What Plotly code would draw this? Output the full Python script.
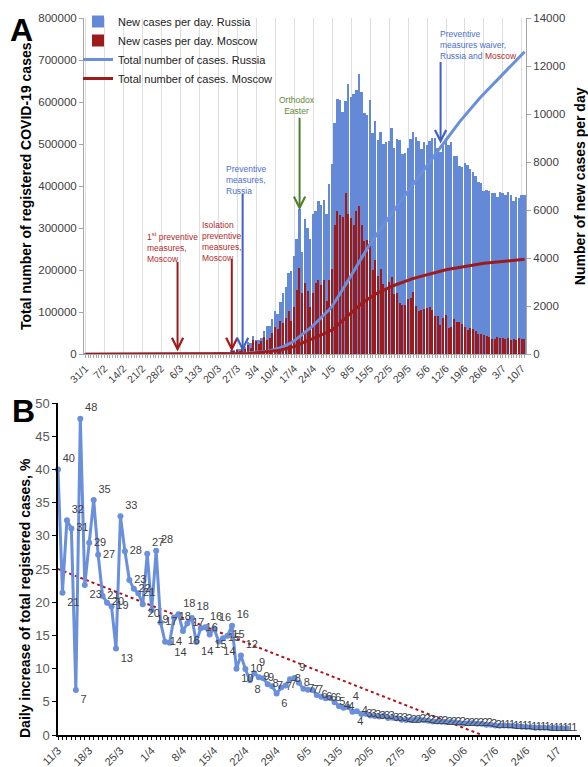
import numpy as np
import pandas as pd
import plotly.graph_objects as go

# ---------------- DATA ----------------
# New cases per day, Russia, 31 Jan 2020 - 11 Jul 2020
russia_jan = [2]
russia_feb = [0, 0, 0, 0, 0, 0, 0, 0, 0, 0, 0, 0, 0, 0, 0, 0, 0, 0, 0, 0, 0, 0, 0, 0, 0, 0, 0, 0, 0]
russia_mar = [0, 1, 0, 0, 1, 6, 4, 3, 0, 3, 8, 6, 11, 14, 4, 30, 21, 33, 52, 54, 53, 61, 71, 57,
              163, 182, 196, 228, 270, 302, 501]
russia_apr = [440, 771, 601, 582, 658, 954, 1154, 1175, 1459, 1786, 1667, 2186, 2558, 2774, 3388,
              3448, 4070, 4785, 6060, 4268, 5642, 5236, 4774, 5849, 5966, 6361, 6198, 6411, 5841, 7099]
russia_may = [7933, 9623, 10633, 10581, 10102, 10559, 11231, 10699, 10817, 11012, 11656, 10899,
              10028, 9974, 10598, 9200, 9709, 8926, 9263, 8764, 8849, 8894, 9434, 8599, 8946, 8915,
              8338, 8371, 8572, 8952, 9268]
russia_jun = [9035, 8863, 8536, 8831, 8726, 8855, 8984, 8985, 8595, 8404, 8779, 8987, 8706, 8835,
              8246, 8248, 7843, 7790, 7972, 7889, 7728, 7600, 7425, 7176, 7113, 6800, 6852, 6791,
              6719, 6693]
russia_jul = [6556, 6760, 6718, 6632, 6736, 6611, 6368, 6562, 6509, 6635, 6611]

# New cases per day, Moscow
moscow_jan = [0]
moscow_feb = [0, 0, 0, 0, 0, 0, 0, 0, 0, 0, 0, 0, 0, 0, 0, 0, 0, 0, 0, 0, 0, 0, 0, 0, 0, 0, 0, 0, 0]
moscow_mar = [0, 1, 0, 0, 1, 4, 0, 1, 0, 1, 4, 5, 9, 10, 0, 20, 10, 17, 33, 39, 45, 54, 71, 28,
              120, 136, 157, 114, 197, 212, 387]
moscow_apr = [267, 595, 536, 434, 536, 697, 591, 660, 857, 1124, 1030, 1355, 1306, 1489, 1774,
              1370, 1959, 2649, 3570, 2548, 2957, 2612, 1958, 2559, 2971, 3083, 2871, 3075, 2220, 3093]
moscow_may = [3561, 5358, 5948, 5795, 5714, 6703, 5846, 5667, 5392, 5948, 6169, 5392, 4703, 4748,
              4700, 3500, 3900, 3238, 3545, 2913, 2699, 2988, 3190, 2516, 2560, 2140, 2054, 2054,
              2298, 2332, 2595]
moscow_jun = [2014, 1795, 1842, 1855, 1900, 1950, 1850, 1600, 1572, 1195, 1492, 1642, 1068, 1136,
              1457, 1354, 1316, 1271, 1112, 1000, 1073, 1043, 944, 842, 835, 773, 758, 707, 637, 636]
moscow_jul = [689, 659, 654, 632, 647, 603, 610, 598, 655, 644, 630]

first_day = "2020-01-31"
pct_first_day = "2020-03-11"   # first day of panel B
pct_last_day = "2020-07-03"    # last day of panel B

# linear trend line of panel B
trend_dates = ["2020-03-11", "2020-06-14"]
trend_values = [25.0, 0.0]

top_ticks_start = "2020-01-31"
bottom_ticks_start = "2020-03-11"

# ---------------- derived series ----------------
russia_new = np.array(russia_jan + russia_feb + russia_mar + russia_apr + russia_may + russia_jun + russia_jul, dtype=float)
moscow_new = np.array(moscow_jan + moscow_feb + moscow_mar + moscow_apr + moscow_may + moscow_jun + moscow_jul, dtype=float)
dates = pd.date_range(first_day, periods=len(russia_new), freq="D")
russia_total = np.cumsum(russia_new)
moscow_total = np.cumsum(moscow_new)

# Daily increase of total registered cases, % (Russia)
prev_total = np.concatenate([[np.nan], russia_total[:-1]])
pct_all = russia_new / prev_total * 100
mask = (dates >= pd.Timestamp(pct_first_day)) & (dates <= pd.Timestamp(pct_last_day))
pct_dates = dates[mask]
pct = pct_all[mask]
pct_labels = [f"{v:.0f}" for v in pct]
positions = []
for i, v in enumerate(pct):
    p = pct[i - 1] if i > 0 else v
    n = pct[i + 1] if i < len(pct) - 1 else v
    if v >= p and v >= n and v - min(p, n) > 0.7:
        positions.append("top right")
    elif v <= p and v <= n and max(p, n) - v > 0.7:
        positions.append("bottom right")
    else:
        positions.append("middle right")

# ---------------- styles ----------------
BLUE = "#6489d6"
BLUE_LINE = "#6a8fdb"
RED = "#9e1b1b"
RED_TXT = "#b32a2a"
BLUE_TXT = "#4a6fcf"
GREEN_TXT = "#5e8a33"
FONT = "Liberation Sans, Arial, sans-serif"
DAY = 86400000

fig = go.Figure()

fig.add_trace(go.Bar(x=dates, y=russia_new, name="New cases per day. Russia",
                     marker=dict(color=BLUE, line=dict(width=0)), width=0.72 * DAY,
                     xaxis="x", yaxis="y"))
fig.add_trace(go.Bar(x=dates, y=moscow_new, name="New cases per day. Moscow",
                     marker=dict(color=RED, line=dict(width=0)), width=0.5 * DAY,
                     xaxis="x", yaxis="y"))
fig.add_trace(go.Scatter(x=dates, y=russia_total, name="Total number of cases. Russia",
                         mode="lines", line=dict(color=BLUE_LINE, width=3),
                         xaxis="x", yaxis="y2"))
fig.add_trace(go.Scatter(x=dates, y=moscow_total, name="Total number of cases. Moscow",
                         mode="lines", line=dict(color=RED, width=3),
                         xaxis="x", yaxis="y2"))

# Panel B
fig.add_trace(go.Scatter(x=trend_dates, y=trend_values, mode="lines", showlegend=False,
                         line=dict(color="#b0141c", width=2, dash="dot"),
                         xaxis="x2", yaxis="y3"))
fig.add_trace(go.Scatter(x=pct_dates, y=pct, mode="lines+markers+text", showlegend=False,
                         line=dict(color=BLUE_LINE, width=3),
                         marker=dict(color=BLUE_LINE, size=6),
                         text=pct_labels, textposition=positions,
                         textfont=dict(family=FONT, size=11, color="#404040"),
                         cliponaxis=False, xaxis="x2", yaxis="y3"))

top_dom = [1 - 354.3 / 767, 1 - 18.3 / 767]
bot_dom = [1 - 735 / 767, 1 - 403 / 767]

fig.update_layout(
    width=588, height=767,
    margin=dict(l=0, r=0, t=0, b=0, autoexpand=False),
    paper_bgcolor="white", plot_bgcolor="white",
    font=dict(family=FONT, color="#404040"),
    barmode="overlay",
    bargap=0,
    legend=dict(x=78 / 588, y=1 - 7 / 767, xanchor="left", yanchor="top",
                bgcolor="rgba(0,0,0,0)", font=dict(size=11, color="#222222"),
                tracegroupgap=0, itemwidth=30),
    xaxis=dict(domain=[84 / 588, 526 / 588], anchor="y", type="date", automargin=False,
               range=["2020-01-30 12:00", "2020-07-11 12:00"],
               tick0=top_ticks_start, dtick=7 * DAY, tickformat="%-d/%-m",
               tickangle=-45, tickfont=dict(size=10.5, color="#404040"),
               showgrid=True, gridcolor="#dedede", gridwidth=1,
               showline=True, linecolor="#a6a6a6", linewidth=1,
               ticks="outside", ticklen=3, tickcolor="#a6a6a6",
               minor=dict(ticks="outside", ticklen=3, dtick=DAY, tickcolor="#a6a6a6", showgrid=False)),
    yaxis=dict(domain=top_dom, anchor="x", side="right", range=[0, 14000], dtick=2000,
               automargin=False,
               tickformat="d", tickfont=dict(size=11.5, color="#404040"),
               showgrid=False, zeroline=False, showline=True, linecolor="#a6a6a6",
               ticks="outside", ticklen=4, tickcolor="#a6a6a6",
               title=dict(text="<b>Number of new cases per day</b>",
                          font=dict(size=14, color="black"), standoff=18)),
    yaxis2=dict(overlaying="y", anchor="x", side="left", range=[0, 800000], dtick=100000,
                automargin=False,
                tickformat="d", tickfont=dict(size=11.5, color="#404040"),
                showgrid=False, zeroline=False, showline=True, linecolor="#a6a6a6",
                ticks="outside", ticklen=4, tickcolor="#a6a6a6",
                title=dict(text="<b>Total number of registered COVID-19 cases</b>",
                           font=dict(size=14, color="black"), standoff=3)),
    xaxis2=dict(domain=[58 / 588, 580 / 588], anchor="y3", type="date", automargin=False,
                range=["2020-03-11", "2020-07-06"],
                tick0=bottom_ticks_start, dtick=7 * DAY, tickformat="%-d/%-m",
                tickangle=-45, tickfont=dict(size=11, color="#404040"),
                showgrid=False, showline=True, linecolor="black", linewidth=1.5,
                ticks="outside", ticklen=3, tickcolor="black",
                minor=dict(ticks="outside", ticklen=3, dtick=DAY, tickcolor="black", showgrid=False)),
    yaxis3=dict(domain=bot_dom, anchor="x2", range=[0, 50], dtick=5, automargin=False,
                tickfont=dict(size=13, color="#595959"),
                showgrid=False, zeroline=False, showline=True, linecolor="black", linewidth=1.5,
                ticks="outside", ticklen=4, tickcolor="black"),
)

ann = []
# panel letters
ann.append(dict(text="<b>A</b>", x=8 / 588, y=1 - 10 / 767, xref="paper", yref="paper",
                xanchor="left", yanchor="top", showarrow=False, font=dict(size=32, color="black")))
ann.append(dict(text="<b>B</b>", x=10 / 588, y=1 - 391 / 767, xref="paper", yref="paper",
                xanchor="left", yanchor="top", showarrow=False, font=dict(size=32, color="black")))
# panel B y title
ann.append(dict(text="<b>Daily increase of total registered cases, %</b>", x=25 / 588,
                y=1 - 598 / 767, xref="paper", yref="paper", textangle=-90, showarrow=False,
                xanchor="center", yanchor="middle", font=dict(size=14, color="black")))

# event arrows (tip at date, value on the daily-cases axis)
arrows = [
    ("2020-03-05", 120, -91, RED),
    ("2020-03-25", 120, -94, RED),
    ("2020-03-29", 120, -159, "#3f63c4"),
    ("2020-04-19", 6000, -94, "#4f7f2a"),
    ("2020-06-10", 8780, -83, "#3f63c4"),
]
for xd, yv, ay, col in arrows:
    ann.append(dict(x=xd, y=yv, xref="x", yref="y", text="", showarrow=True, ax=0, ay=ay,
                    arrowcolor=col, arrowwidth=2, arrowhead=5, arrowsize=1.1))

txt_font = 8.5
ann.append(dict(text="1<sup>st</sup> preventive<br>measures,<br>Moscow", x=145 / 588, y=1 - 229 / 767,
                xref="paper", yref="paper", xanchor="left", yanchor="top", align="left",
                showarrow=False, font=dict(size=txt_font, color=RED_TXT)))
ann.append(dict(text="Isolation<br>preventive<br>measures,<br>Moscow", x=200 / 588, y=1 - 218 / 767,
                xref="paper", yref="paper", xanchor="left", yanchor="top", align="left",
                showarrow=False, font=dict(size=txt_font, color=RED_TXT)))
ann.append(dict(text="Preventive<br>measures,<br>Russia", x=224 / 588, y=1 - 162 / 767,
                xref="paper", yref="paper", xanchor="left", yanchor="top", align="left",
                showarrow=False, font=dict(size=txt_font, color=BLUE_TXT)))
ann.append(dict(text="Orthodox<br>Easter", x=297 / 588, y=1 - 93 / 767,
                xref="paper", yref="paper", xanchor="center", yanchor="top", align="center",
                showarrow=False, font=dict(size=txt_font, color=GREEN_TXT)))
ann.append(dict(text="Preventive<br>measures waiver,<br>Russia and <span style='color:%s'>Moscow</span>" % RED_TXT,
                x=438 / 588, y=1 - 27 / 767,
                xref="paper", yref="paper", xanchor="left", yanchor="top", align="left",
                showarrow=False, font=dict(size=txt_font, color=BLUE_TXT)))

fig.update_layout(annotations=ann)
fig.write_html("out.html", config={"displayModeBar": False},
               post_script="document.body.style.margin='0px';document.body.style.overflow='hidden';")
